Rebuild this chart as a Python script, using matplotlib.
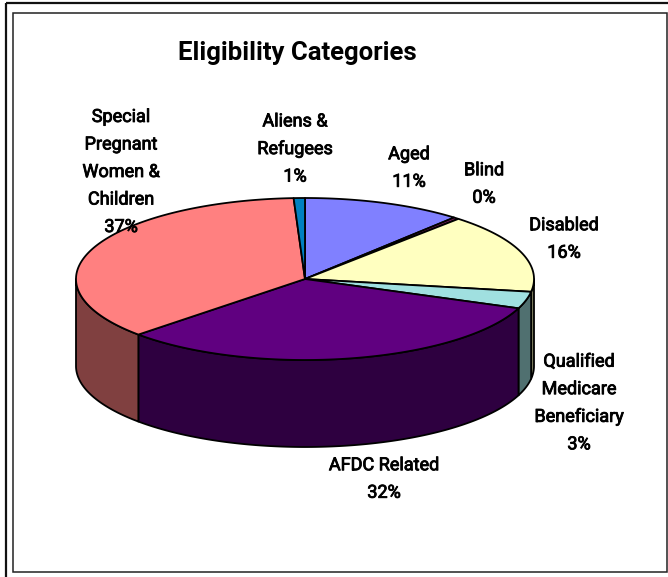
import numpy as np
import matplotlib
matplotlib.use("Agg")
import matplotlib.pyplot as plt
from matplotlib.patches import Rectangle, Polygon
import matplotlib.patheffects as pe

plt.rcParams['font.family'] = ['Roboto', 'Liberation Sans', 'DejaVu Sans']

categories = ["Aged", "Blind", "Disabled", "Qualified\nMedicare\nBeneficiary",
              "AFDC Related", "Special\nPregnant\nWomen &\nChildren", "Aliens &\nRefugees"]
values = [11.4, 0.4, 16.0, 3.4, 32.4, 36.6, 0.8]
top_colors = ["#8080FF", "#802060", "#FFFFC0", "#A0E0E0", "#600080", "#FF8080", "#0080C0"]
side_colors = ["#404080", "#401030", "#808060", "#507070", "#2E0040", "#804040", "#004060"]
# label centres, in pixels
label_x = [409, 484, 564, 579, 384, 121, 295]
label_y = [168, 184, 239, 403, 479, 172, 149]

W, H = 668, 577
fig = plt.figure(figsize=(W / 100, H / 100), dpi=100)
ax = fig.add_axes([0, 0, 1, 1])
ax.set_xlim(0, W)
ax.set_ylim(H, 0)
ax.axis('off')

# double border round the chart
ax.add_patch(Rectangle((5.5, 3), W, H, fill=False, ec='#111111', lw=1.6))
ax.add_patch(Rectangle((12.5, 12.5), 654, 559.5, fill=False, ec='#222222', lw=1.1))

cx, cy, rx, ry, depth = 305, 279, 229, 81, 87


def rim(t0, t1):
    # angles are clockwise from 12 o'clock, in degrees
    t = np.radians(np.linspace(t0, t1, max(int(abs(t1 - t0) * 2), 2)))
    return cx + rx * np.sin(t), cy - ry * np.cos(t)


edges = np.concatenate([[0], np.cumsum(values)]) / sum(values) * 360

# outer wall: only the part between 90 and 270 degrees faces the viewer
for i in range(len(values)):
    a, b = max(edges[i], 90), min(edges[i + 1], 270)
    if b <= a:
        continue
    x, y = rim(a, b)
    pts = np.column_stack([np.r_[x, x[::-1]], np.r_[y, y[::-1] + depth]])
    ax.add_patch(Polygon(pts, closed=True, fc=side_colors[i], ec='black', lw=1.3, joinstyle='round'))

# top faces
for i in range(len(values)):
    x, y = rim(edges[i], edges[i + 1])
    pts = np.column_stack([np.r_[cx, x], np.r_[cy, y]])
    ax.add_patch(Polygon(pts, closed=True, fc=top_colors[i], ec='black', lw=1.3, joinstyle='round'))

bold = [pe.withStroke(linewidth=0.6, foreground='black')]

ax.text(297, 53, "Eligibility Categories", ha='center', va='center', fontsize=18.5,
        fontweight='bold', color='black')

for name, v, lx, ly in zip(categories, values, label_x, label_y):
    ax.text(lx, ly, f"{name}\n{v:.0f}%", ha='center', va='center', fontsize=13,
            linespacing=1.68, color='black', path_effects=bold)

fig.savefig("out.png", dpi=100)
